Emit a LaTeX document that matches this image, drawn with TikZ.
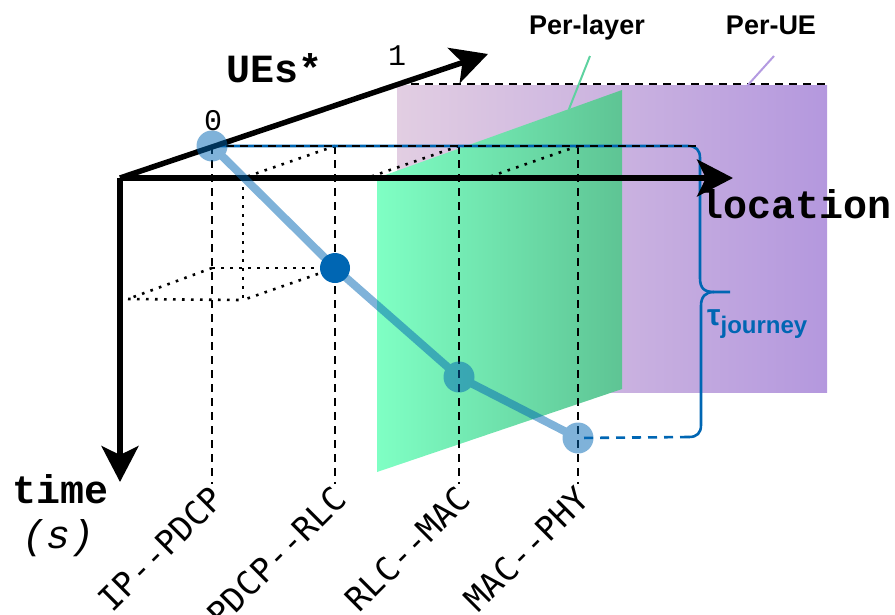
\documentclass[tikz,border=0pt]{standalone}
\usepackage{fontspec}
\newfontfamily\monof{Liberation Mono}
\newfontfamily\dmonof{DejaVu Sans Mono}
\newfontfamily\sansf{Liberation Sans}
\usetikzlibrary{arrows.meta}
\definecolor{ublue}{RGB}{0,102,179}
\definecolor{pleft}{RGB}{226,206,226}
\definecolor{pright}{RGB}{180,152,222}
\definecolor{gleft}{RGB}{127,255,196}
\definecolor{gright}{RGB}{94,196,148}
\definecolor{gleader}{RGB}{94,210,160}
\definecolor{pleader}{RGB}{180,155,225}
\tikzset{
  axis/.style={line width=5.5pt, -{Stealth[length=36pt,width=37pt,inset=9pt]}},
  dashln/.style={line width=2.6pt, dash pattern=on 8pt off 6pt},
  dotln/.style={line width=2.6pt, dash pattern=on 2.6pt off 6.4pt},
  bracket/.style={ublue, line width=2.6pt},
  lightdot/.style={circle, fill=ublue, minimum size=31pt, inner sep=0pt},
  darkdot/.style={circle, fill=ublue, minimum size=30pt, inner sep=0pt},
  lbl/.style={rotate=45, anchor=north east, inner sep=0pt, font=\dmonof\fontsize{33}{33}\selectfont},
  big/.style={inner sep=0pt, font=\monof\bfseries\fontsize{40}{40}\selectfont},
  tick/.style={inner sep=0pt, anchor=base, font=\monof\fontsize{30}{30}\selectfont},
  sanslbl/.style={inner sep=0pt, anchor=base, font=\sansf\bfseries\fontsize{27}{27}\selectfont}
}
\begin{document}
\begin{tikzpicture}[x=1pt,y=-1pt]
\useasboundingbox (0,0) rectangle (895,614);
% planes
\shade[left color=pleft, right color=pright] (397,85) rectangle (827,392);
\coordinate (ueL) at (397,84);
\coordinate (ueR) at (827,84);
\draw[dashln] (ueL) -- (ueR);
\shade[left color=gleft, right color=gright] (377,178) -- (622,90) -- (622,389) -- (377,472) -- cycle;
% coordinates
\coordinate (O) at (120,178);
\coordinate (Tend) at (120,482);
\coordinate (Lend) at (733,178);
\coordinate (Uend) at (488,54);
\coordinate (c0) at (212,146);
\coordinate (c1) at (335,268);
\coordinate (c2) at (459,377);
\coordinate (c3) at (578,438);
\coordinate (t1) at (335,146);
\coordinate (t2) at (459,146);
\coordinate (t3) at (578,146);
\coordinate (b0) at (212,484);
\coordinate (b1) at (335,484);
\coordinate (b2) at (459,484);
\coordinate (b3) at (578,484);
\coordinate (q1) at (243,178);
\coordinate (q2) at (367,178);
\coordinate (q3) at (486,178);
\coordinate (h0) at (212,268);
\coordinate (r1) at (243,300);
\coordinate (r0) at (128,299);
\coordinate (topend) at (700,146);
% dashed verticals
\draw[dashln] (c0) -- (b0);
\draw[dashln] (t1) -- (b1);
\draw[dashln] (t2) -- (b2);
\draw[dashln] (t3) -- (b3);
% dotted projections
\draw[dotln] (t1) -- (q1);
\draw[dotln] (t2) -- (q2);
\draw[dotln] (t3) -- (q3);
\draw[dotln] (q1) -- (r1);
\draw[dotln] (h0) -- (c1);
\draw[dotln] (c1) -- (r1);
\draw[dotln] (h0) -- (r0);
\draw[dotln] (r0) -- (r1);
% bracket
\coordinate (brTip) at (730,292);
\coordinate (brEnd) at (689,437);
\draw[bracket] (c0) -- (688,146) .. controls (696,146) and (700,150) .. (700,158) -- (700,278)
   .. controls (700,288) and (704,292) .. (714,292) -- (brTip);
\draw[bracket] (714,292) .. controls (705,292) and (701,297) .. (701,306) -- (701,425)
   .. controls (701,433) and (697,437) .. (brEnd);
\draw[bracket, dash pattern=on 9pt off 7pt] (brEnd) -- (c3);
\draw[dashln] (c0) -- (topend);
% axes
\draw[axis] (O) -- (Tend);
\draw[axis] (O) -- (Lend);
\draw[axis] (O) -- (Uend);
% journey
\begin{scope}[transparency group, opacity=0.5]
  \node[lightdot] (p0) at (c0) {};
  \node[lightdot] (p2) at (c2) {};
  \node[lightdot] (p3) at (c3) {};
  \draw[ublue, line width=8pt, line join=round] (p0.center) -- (c1) -- (p2.center) -- (p3.center);
\end{scope}
\node[darkdot] (p1) at (c1) {};
% texts
\node[big, anchor=base] (ues) at (275,82) {UEs*};
\node[tick] (one) at (397,65) {1};
\node[tick] (zero) at (213,130) {0};
\node[big, anchor=base west] (loc) at (699,218) {location};
\node[big, anchor=base west] (time) at (12,503) {time};
\node[inner sep=0pt, anchor=base west, font=\monof\itshape\fontsize{40}{40}\selectfont] (sec) at (22,548) {(s)};
\node[lbl] (l0) at (208,484) {IP-{}-PDCP};
\node[lbl] (l1) at (331,484) {PDCP-{}-RLC};
\node[lbl] (l2) at (455,484) {RLC-{}-MAC};
\node[lbl] (l3) at (574,484) {MAC-{}-PHY};
\node[sanslbl] (perlayer) at (587,34) {Per-layer};
\node[sanslbl] (perue) at (771,34) {Per-UE};
\coordinate (plA) at (590,56);
\coordinate (plB) at (569,109);
\coordinate (puA) at (774,56);
\coordinate (puB) at (747,86);
\draw[gleader, line width=2pt] (plA) -- (plB);
\draw[pleader, line width=2pt] (puA) -- (puB);
\node[inner sep=0pt, anchor=base west, text=ublue, font=\sansf\bfseries] (tau) at (707,325)
  {\fontsize{30}{30}\selectfont τ\raisebox{-8pt}{\fontsize{24}{24}\selectfont journey}};
\end{tikzpicture}
\end{document}
